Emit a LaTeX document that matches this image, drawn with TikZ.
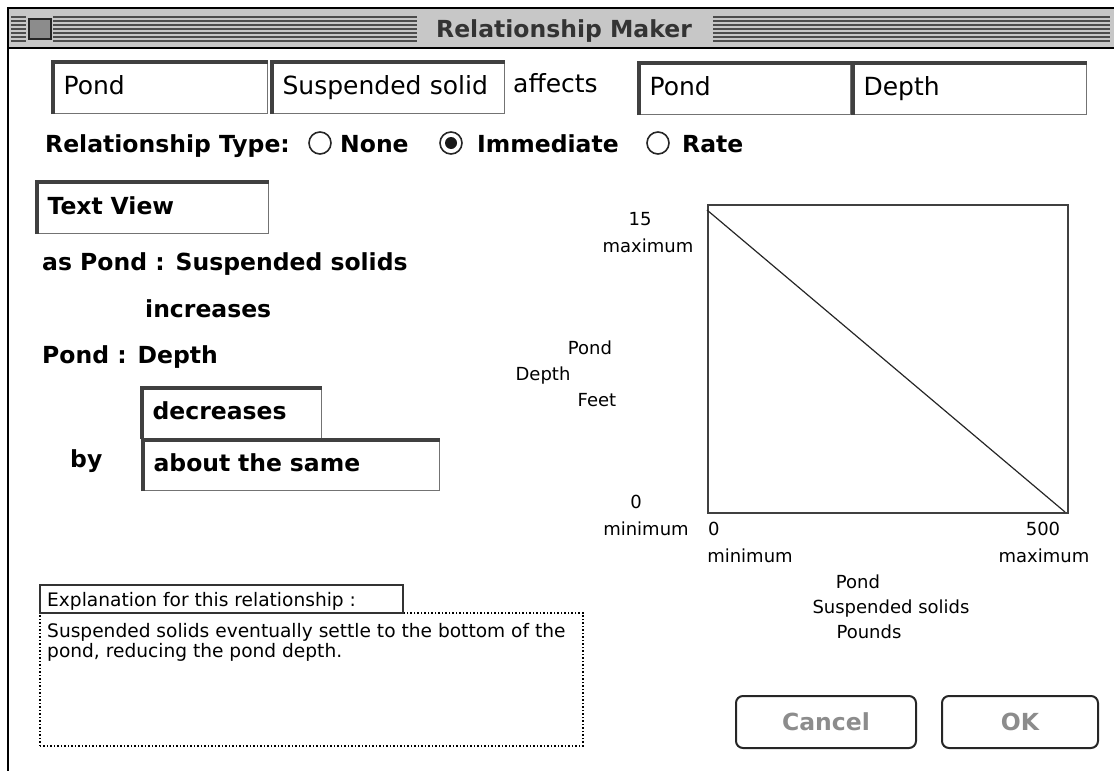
\documentclass[tikz,border=0pt]{standalone}
\usepackage{fontspec}
\setmainfont{DejaVu Sans}
\begin{document}
\begin{tikzpicture}[x=1pt, y=-1pt,
  txtb/.style={font=\fontsize{23.5}{26}\selectfont\bfseries},
  txtr/.style={font=\fontsize{25}{28}\selectfont},
  txts/.style={font=\fontsize{18}{20}\selectfont},
  txte/.style={font=\fontsize{18.6}{20}\selectfont},
  lbl/.style={inner sep=0pt, anchor=base west},
  axl/.style={txts, inner sep=0pt, anchor=base},
  field/.style={draw=black!55, line width=1.2pt, anchor=north west, minimum height=51pt, inner xsep=10pt, inner ysep=0pt, text height=17pt, text depth=5pt, align=left},
  inset/.style={draw=black!75, line width=3.5pt},
  radio/.style={draw=black!85, line width=1.6pt, circle, minimum size=22pt, inner sep=0pt},
  button/.style={draw=black!85, line width=2pt, rounded corners=7pt, anchor=north west, minimum width=180pt, minimum height=52pt, text=black!45, txtb}]
\useasboundingbox (0,0) rectangle (1114,771);
% title bar
\draw[line width=2pt, fill=black!22] (8,8) rectangle (1116,48);
\foreach \sy in {17,21,...,41} {
  \draw[black!70, line width=1.4pt] (11,\sy) -- (26,\sy);
  \draw[black!70, line width=1.4pt] (53,\sy) -- (417,\sy);
  \draw[black!70, line width=1.4pt] (713,\sy) -- (1110,\sy);
}
\node[draw=black!85, line width=1.5pt, fill=black!45, minimum width=22pt, minimum height=20pt, inner sep=0pt, anchor=north west] (closebox) at (28,18) {};
\node[txtb, text=black!80, inner sep=0pt, anchor=base] (title) at (564,37) {Relationship Maker};
\draw[line width=2pt] (8,48) -- (8,771);
% variable fields
\node[field, txtr, minimum width=214pt, text width=194pt] (fld0) at (53,62) {Pond};
\node[field, txtr, minimum width=232pt, text width=212pt] (fld1) at (272,62) {Suspended solid};
\node[lbl, txtr] (affects) at (513,92) {affects};
\node[field, txtr, minimum width=211pt, text width=191pt] (fld2) at (639,63) {Pond};
\node[field, txtr, minimum width=233pt, text width=213pt] (fld3) at (853,63) {Depth};
% relationship type
\node[lbl, txtb] (reltype) at (45,152) {Relationship Type:};
\node[radio] (rad0) at (320,143) {};
\node[lbl, txtb] (none) at (340,152) {None};
\node[radio] (rad1) at (451,143) {};
\fill[black!90] (rad1.center) circle (6pt);
\node[lbl, txtb] (immediate) at (477,152) {Immediate};
\node[radio] (rad2) at (658,143) {};
\node[lbl, txtb] (rate) at (682,152) {Rate};
% text view
\node[field, txtb, minimum width=231pt, text width=211pt] (fld4) at (37,182) {Text View};
\node[lbl, txtb] (asline) at (42,270) {as Pond : Suspended solids};
\node[lbl, txtb] (incr) at (145,317) {increases};
\node[lbl, txtb] (depthline) at (42,363) {Pond : Depth};
\node[field, txtb, minimum width=179pt, text width=159pt, minimum height=50pt] (fld5) at (142,388) {decreases};
\node[field, txtb, minimum width=296pt, text width=276pt, minimum height=50pt] (fld6) at (143,440) {about the same};
\node[lbl, txtb] (by) at (70,467) {by};
\foreach \f in {fld0,fld1,fld2,fld3,fld4,fld5,fld6}
  \draw[inset] (\f.south west) |- (\f.north east);
% graph
\node[draw=black!75, line width=2pt, minimum width=360pt, minimum height=308pt, inner sep=0pt, anchor=north west] (plot) at (707,204) {};
\coordinate (ytop) at (707,210);
\coordinate (xend) at (1065,512);
\draw[black!85, line width=1.2pt] (ytop) -- (xend);
\node[axl] (ymax) at (640,225) {15};
\node[axl] (ymaxl) at (648,252) {maximum};
\node[axl] (yobj) at (590,354) {Pond};
\node[axl] (yvar) at (543,380) {Depth};
\node[axl] (yunit) at (597,406) {Feet};
\node[axl] (ymin) at (636,508) {0};
\node[axl] (yminl) at (646,535) {minimum};
\node[axl, anchor=base west] (xmin) at (708,535) {0};
\node[axl] (xmax) at (1043,535) {500};
\node[axl] (xminl) at (750,562) {minimum};
\node[axl] (xmaxl) at (1044,562) {maximum};
\node[axl] (xobj) at (858,588) {Pond};
\node[axl] (xvar) at (891,613) {Suspended solids};
\node[axl] (xunit) at (869,638) {Pounds};
% explanation
\node[draw, dotted, line width=1.5pt, minimum width=543pt, minimum height=133pt, inner sep=0pt, anchor=north west] (expl) at (39,612) {};
\node[draw=black!80, fill=white, line width=1.8pt, minimum width=363pt, minimum height=28pt, inner sep=0pt, anchor=north west] (hdr) at (39,584) {};
\node[lbl, txte] (hdrtext) at (47,606) {Explanation for this relationship :};
\node[lbl, txte] (expl0) at (47,637) {Suspended solids eventually settle to the bottom of the};
\node[lbl, txte] (expl1) at (47,657) {pond, reducing the pond depth.};
% buttons
\node[button] (cancel) at (735,695) {Cancel};
\node[button, minimum width=156pt] (ok) at (941,695) {OK};
\end{tikzpicture}
\end{document}
